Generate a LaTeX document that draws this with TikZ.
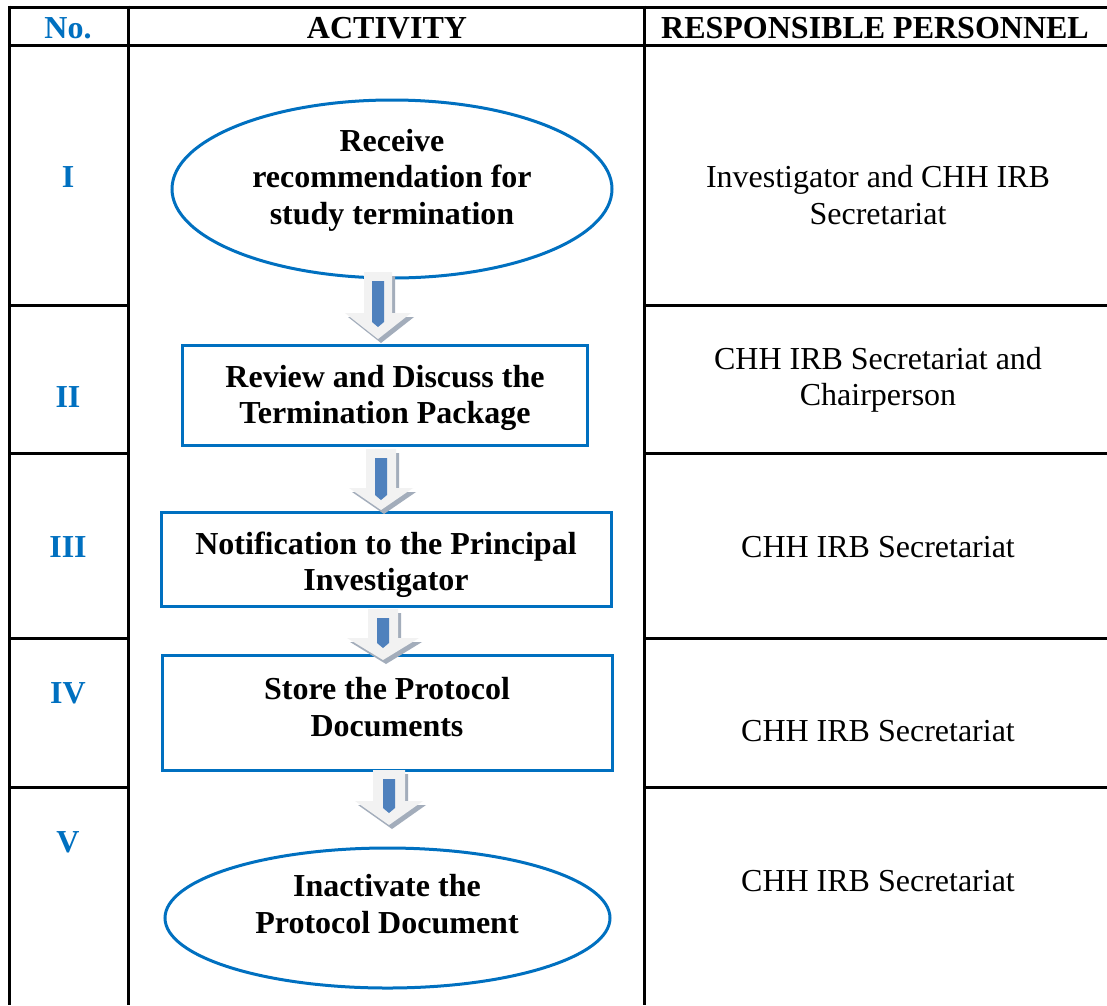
\documentclass[tikz,border=0pt]{standalone}
\usepackage{fontspec}
\setmainfont{Liberation Serif}
\usetikzlibrary{shapes.geometric}
\definecolor{flowblue}{HTML}{0070C0}
\definecolor{arrlight}{HTML}{F2F2F2}
\definecolor{arrshadow}{HTML}{A3ADBB}
\definecolor{barblue}{HTML}{4F81BD}
\newcommand\blockarrow[7]{%
  \begin{scope}[shift={(3,4)}]
    \fill[arrshadow] ({#1-#5},#2) -- ({#1+#5},#2) -- ({#1+#5},#3) -- ({#1+#6},#3) -- (#1,#4) -- ({#1-#6},#3) -- ({#1-#5},#3) -- cycle;
  \end{scope}
  \fill[arrlight] ({#1-#5},#2) -- ({#1+#5},#2) -- ({#1+#5},#3) -- ({#1+#6},#3) -- (#1,#4) -- ({#1-#6},#3) -- ({#1-#5},#3) -- cycle;
  \fill[barblue] ({#1-6},{#2+9}) -- ({#1+6},{#2+9}) -- ({#1+6},{#7-5}) -- (#1,#7) -- ({#1-6},{#7-5}) -- cycle;
}
\begin{document}
\begin{tikzpicture}[x=1pt,y=-1pt,
  tline/.style={line width=3pt,black},
  flowshape/.style={draw=flowblue,line width=3pt,inner sep=0pt},
  ovalbox/.style={flowshape,ellipse},
  rectbox/.style={flowshape,rectangle},
  ftext/.style={font=\fontsize{32}{36.5}\selectfont\bfseries,align=center,inner sep=0pt},
  numtext/.style={font=\fontsize{32}{36.5}\selectfont\bfseries,text=flowblue,inner sep=0pt},
  ptext/.style={font=\fontsize{32}{36.5}\selectfont,align=center,inner sep=0pt}]
\useasboundingbox[fill=white] (0,0) rectangle (1107,1005);
% table
\draw[tline] (9,7) -- (1107,7);
\draw[tline] (9,45) -- (1107,45);
\draw[tline] (9,5.5) -- (9,1005);
\draw[tline] (128.5,5.5) -- (128.5,1005);
\draw[tline] (644,5.5) -- (644,1005);
\foreach \yy in {305,453,638,787}{
  \draw[tline] (9,\yy) -- (128.5,\yy);
  \draw[tline] (644,\yy) -- (1107,\yy);
}
% header
\node[numtext] (hno) at (68,28) {No.};
\node[ftext] (hact) at (387,28) {ACTIVITY};
\node[ftext] (hresp) at (875,28) {RESPONSIBLE PERSONNEL};
% numbers
\node[numtext] (n1) at (68,177) {I};
\node[numtext] (n2) at (68,397) {II};
\node[numtext] (n3) at (68,547) {III};
\node[numtext] (n4) at (68,693) {IV};
\node[numtext] (n5) at (68,842) {V};
% responsible
\node[ptext] (r1) at (878,195) {Investigator and CHH IRB\\Secretariat};
\node[ptext] (r2) at (878,380) {CHH IRB Secretariat and\\Chairperson};
\node[ptext] (r3) at (878,547) {CHH IRB Secretariat};
\node[ptext] (r4) at (878,731) {CHH IRB Secretariat};
\node[ptext] (r5) at (878,881) {CHH IRB Secretariat};
% flow shapes
\node[ovalbox,minimum width=440pt,minimum height=178pt] (s1) at (392,189) {};
\node[rectbox,minimum width=405pt,minimum height=100pt] (s2) at (384.5,395) {};
\node[rectbox,minimum width=450pt,minimum height=94pt] (s3) at (386,559) {};
\node[rectbox,minimum width=450pt,minimum height=115pt] (s4) at (387,712.5) {};
\node[ovalbox,minimum width=445pt,minimum height=140pt] (s5) at (387.5,918) {};
% flow texts
\node[ftext] (t1) at (392,180) {Receive\\recommendation for\\study termination};
\node[ftext] (t2) at (385,398) {Review and Discuss the\\Termination Package};
\node[ftext] (t3) at (386,565) {Notification to the Principal\\Investigator};
\node[ftext] (t4) at (387,707) {Store the Protocol\\Documents};
\node[ftext] (t5) at (387,904) {Inactivate the\\Protocol Document};
% block arrows
\blockarrow{378}{272}{313}{339}{14}{33}{327}
\blockarrow{381}{449}{488}{510}{15}{32}{500}
\blockarrow{383}{609}{638}{660}{15}{36}{648}
\blockarrow{389}{770}{801}{825}{16}{34}{813}
\end{tikzpicture}
\end{document}
